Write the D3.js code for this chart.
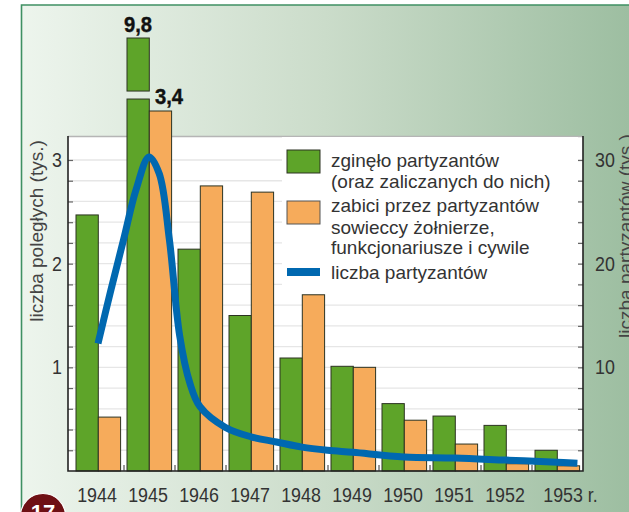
<!DOCTYPE html>
<html><head><meta charset="utf-8">
<script src="https://cdn.jsdelivr.net/npm/d3@7"></script>
<style>html,body{margin:0;padding:0;background:#fff;overflow:hidden}svg{display:block}text{font-family:"Liberation Sans",sans-serif}</style>
</head><body><div id="c"></div>
<script>
const years=[1944,1945,1946,1947,1948,1949,1950,1951,1952,1953];
const killedPartisans=[2.47,9.8,2.14,1.5,1.09,1.01,0.65,0.53,0.44,0.2];
const killedByPartisans=[0.52,3.4,2.75,2.69,1.7,1.0,0.49,0.26,0.07,0.05];
const lineYears=[1944,1944.25,1944.5,1944.75,1945,1945.2,1945.4,1945.6,1945.8,1946,1946.5,1947,1947.5,1948,1948.5,1949,1950,1951,1952,1953,1953.4];
const partisans=[12.3,17.4,22.3,27.2,30.3,28.7,22.3,13.1,8.5,6.2,4.2,3.3,2.8,2.3,2,1.8,1.35,1.25,1.05,0.85,0.75];
const leftTicks=[0.2,0.4,0.6,0.8,1,1.2,1.4,1.6,1.8,2,2.2,2.4,2.6,2.8,3];
const rightTicks=[2,4,6,8,10,12,14,16,18,20,22,24,26,28,30];
const legendLines=[["zginęło partyzantów",167],["(oraz zaliczanych do nich)",188],["zabici przez partyzantów",212],["sowieccy żołnierze,",234],["funkcjonariusze i cywile",254],["liczba partyzantów",279]];
const axisBreak=[4.45,5.15];

const W=629,H=512;
const svg=d3.select("#c").append("svg").attr("width",W).attr("height",H);
const defs=svg.append("defs");
const g=defs.append("linearGradient").attr("id","bg").attr("x1",0).attr("x2",1).attr("y1",0).attr("y2",0);
[[0,"#edf5ed"],[0.5,"#cbdcca"],[1,"#9dbea1"]].forEach(s=>g.append("stop").attr("offset",s[0]).attr("stop-color",s[1]));

svg.append("rect").attr("x",21).attr("y",5).attr("width",W-21).attr("height",H-5).attr("fill","url(#bg)");
svg.append("path").attr("d",`M21.5,${H}V5H${W}`).attr("fill","none").attr("stroke","#3f9063").attr("stroke-width",1.6);

const L=68,R=583,T=136,B=471;
const y=d3.scaleLinear().domain([0,3,3.4,9.8]).range([B,160,111,38]);
const yR=d3.scaleLinear().domain([0,30]).range([B,160]);
const x0=d3.scaleBand().domain(years).range([73,583]);
const x1=d3.scaleBand().domain(["a","b"]).range([3,47.6]);
const xL=d3.scaleLinear().domain([1944,1953]).range([x0(1944)+x0.bandwidth()/2-0.5,x0(1953)+x0.bandwidth()/2-0.5]);

svg.append("rect").attr("x",L).attr("y",T).attr("width",R-L).attr("height",B-T).attr("fill","#fff");
svg.append("line").attr("x1",L).attr("x2",R).attr("y1",T+0.5).attr("y2",T+0.5).attr("stroke","#b5b5b5").attr("stroke-width",1.4);

svg.append("g").selectAll("line").data(leftTicks).join("line")
 .attr("x1",L).attr("x2",R).attr("y1",d=>y(d)).attr("y2",d=>y(d)).attr("stroke","#e6e6e6").attr("stroke-width",1.3);
svg.append("rect").attr("x",282).attr("y",T+1).attr("width",296).attr("height",155).attr("fill","#fff");

function bar(sel,xv,w,top,bot,fill){
 sel.append("rect").attr("x",xv).attr("width",w).attr("y",top).attr("height",bot-top)
  .attr("fill",fill).attr("stroke","#2c3322").attr("stroke-width",1);
}
const bars=svg.append("g");
years.forEach((yr,i)=>{
 const xa=x0(yr)+x1("a"),xb=x0(yr)+x1("b"),w=x1.bandwidth();
 const v=killedPartisans[i];
 if(v>axisBreak[1]){
  bar(bars,xa,w,y(axisBreak[0]),B,"#5ea429");
  bar(bars,xa,w,y(v),y(axisBreak[1]),"#5ea429");
 } else bar(bars,xa,w,y(v),B,"#5ea429");
 bar(bars,xb,w,y(killedByPartisans[i]),B,"#f6ab5b");
});

const curve=d3.line().x((d,i)=>xL(lineYears[i])).y(d=>yR(d)).curve(d3.curveCatmullRom.alpha(0.5));
svg.append("path").attr("d",curve(partisans)).attr("fill","none").attr("stroke","#0068b0").attr("stroke-width",7);

const squeeze=0.87;
const axL=d3.axisLeft(y).tickValues(leftTicks).tickSize(-5).tickPadding(6)
  .tickFormat(d=>Number.isInteger(d)?d:"");
const gL=svg.append("g").attr("transform",`translate(${L},0)`).call(axL);
const axR=d3.axisRight(yR).tickValues(rightTicks).tickSize(-5).tickPadding(12)
  .tickFormat(d=>d%10===0?d:"");
const gR=svg.append("g").attr("transform",`translate(${R},0)`).call(axR);
const axB=d3.axisBottom(x0).tickSize(0).tickFormat(d=>d===1953?"1953 r.":d);
const gB=svg.append("g").attr("transform",`translate(0,${B})`).call(axB);
[gL,gR,gB].forEach(a=>{
 a.selectAll(".domain").remove();
 a.selectAll("text").attr("font-family",'"Liberation Sans",sans-serif').attr("font-size",20.5).attr("fill","#333");
 a.selectAll("line").attr("stroke","#666").attr("stroke-width",1.2);
});
gL.selectAll("text").attr("x",null).attr("transform",`translate(-6,0) scale(${squeeze},1)`).attr("text-anchor","end");
gR.selectAll("text").attr("x",null).attr("transform",`translate(12,0) scale(${squeeze},1)`).attr("text-anchor","start");
gB.selectAll("text").attr("y",0).attr("dy",0)
  .attr("transform",d=>`translate(${d===1953?13:-1.5},31) scale(${squeeze},1)`);
svg.append("path").attr("d",`M${L},${T}V${B}H${R}V${T}`).attr("fill","none").attr("stroke","#222").attr("stroke-width",1.6);
svg.append("g").selectAll("line").data(years.slice(1)).join("line")
 .attr("x1",d=>x0(d)).attr("x2",d=>x0(d)).attr("y1",B-6).attr("y2",B).attr("stroke","#333").attr("stroke-width",1);

const lab=(t,xv,yv)=>svg.append("text").text(t).attr("text-anchor","middle")
  .attr("font-weight",700).attr("font-size",22).attr("fill","#111").attr("stroke","#111").attr("stroke-width",0.4)
  .attr("transform",`translate(${xv},${yv}) scale(0.92,1)`);
lab(String(killedPartisans[1]).replace(".",","),138,32);
lab(String(killedByPartisans[1]).replace(".",","),169,104);

svg.append("rect").attr("x",287).attr("y",150).attr("width",33).attr("height",23).attr("fill","#5ea429").attr("stroke","#2c3322");
svg.append("rect").attr("x",287).attr("y",201).attr("width",33).attr("height",23).attr("fill","#f6ab5b").attr("stroke","#555");
svg.append("rect").attr("x",287).attr("y",268).attr("width",33).attr("height",8).attr("fill","#0068b0");
svg.append("g").selectAll("text").data(legendLines).join("text")
 .attr("x",331).attr("y",d=>d[1]).text(d=>d[0]).attr("font-size",19).attr("fill","#333");

const title=(t,xv,yv)=>svg.append("text").text(t).attr("text-anchor","middle").attr("font-size",19).attr("fill","#444")
  .attr("transform",`translate(${xv},${yv}) rotate(-90)`);
title("liczba poległych (tys.)",43,231);
title("liczba partyzantów (tys.)",632,236);

svg.append("circle").attr("cx",43).attr("cy",516).attr("r",22.5).attr("fill","#6e1014").attr("stroke","#fff").attr("stroke-width",1.2);
svg.append("text").text("17").attr("x",43).attr("y",520).attr("text-anchor","middle").attr("font-weight",700).attr("font-size",22).attr("fill","#fff");
</script></body></html>
